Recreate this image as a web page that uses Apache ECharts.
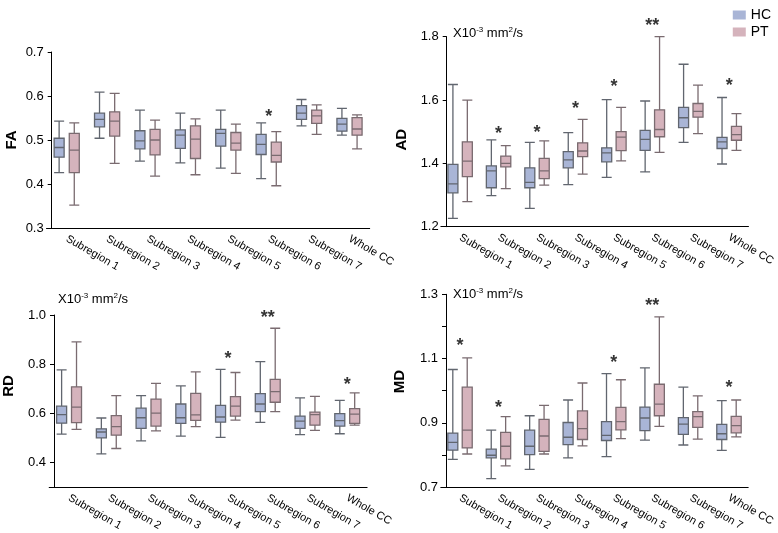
<!DOCTYPE html>
<html><head><meta charset="utf-8">
<script src="https://cdn.jsdelivr.net/npm/echarts@6/dist/echarts.min.js"></script>
<style>html,body{margin:0;padding:0;background:#fff}#c{width:778px;height:533px}</style>
</head><body><div id="c"></div>
<script>
const categories = ['Subregion 1','Subregion 2','Subregion 3','Subregion 4','Subregion 5','Subregion 6','Subregion 7','Whole CC'];
// each entry: [min, Q1, median, Q3, max]
const faHC = [[0.426,0.461,0.483,0.504,0.543],[0.504,0.530,0.547,0.561,0.609],[0.452,0.480,0.498,0.521,0.568],[0.448,0.481,0.511,0.523,0.561],[0.436,0.486,0.515,0.524,0.568],[0.412,0.467,0.490,0.513,0.539],[0.532,0.547,0.561,0.578,0.592],[0.511,0.520,0.536,0.549,0.572]];
const faPT = [[0.352,0.426,0.477,0.515,0.539],[0.447,0.509,0.543,0.564,0.606],[0.418,0.466,0.500,0.524,0.545],[0.421,0.458,0.502,0.532,0.548],[0.424,0.477,0.493,0.517,0.536],[0.396,0.450,0.465,0.495,0.519],[0.513,0.538,0.555,0.568,0.580],[0.480,0.511,0.525,0.551,0.557]];
const adHC = [[1.226,1.307,1.335,1.397,1.649],[1.298,1.323,1.376,1.392,1.474],[1.258,1.323,1.340,1.386,1.466],[1.333,1.386,1.411,1.437,1.497],[1.356,1.405,1.433,1.449,1.601],[1.373,1.441,1.476,1.504,1.597],[1.466,1.513,1.544,1.577,1.713],[1.398,1.447,1.468,1.482,1.608]];
const adPT = [[1.279,1.358,1.407,1.468,1.600],[1.320,1.389,1.400,1.423,1.456],[1.331,1.352,1.376,1.416,1.471],[1.366,1.421,1.439,1.465,1.539],[1.408,1.440,1.483,1.500,1.577],[1.435,1.484,1.507,1.569,1.800],[1.494,1.546,1.564,1.589,1.647],[1.441,1.473,1.491,1.517,1.557]];
const rdHC = [[0.515,0.560,0.595,0.629,0.777],[0.435,0.500,0.524,0.537,0.581],[0.488,0.539,0.582,0.621,0.672],[0.507,0.559,0.582,0.638,0.712],[0.502,0.564,0.585,0.632,0.779],[0.563,0.607,0.638,0.680,0.810],[0.513,0.539,0.568,0.589,0.663],[0.517,0.548,0.570,0.599,0.653]];
const rdPT = [[0.535,0.562,0.625,0.708,0.891],[0.457,0.511,0.546,0.591,0.672],[0.529,0.548,0.601,0.658,0.722],[0.546,0.571,0.594,0.681,0.769],[0.572,0.589,0.629,0.668,0.766],[0.607,0.645,0.688,0.738,0.946],[0.531,0.552,0.595,0.605,0.669],[0.552,0.559,0.597,0.619,0.683]];
const mdHC = [[0.786,0.815,0.839,0.868,1.066],[0.726,0.791,0.799,0.818,0.877],[0.755,0.801,0.827,0.877,0.922],[0.791,0.832,0.855,0.901,0.971],[0.795,0.845,0.861,0.904,1.053],[0.846,0.876,0.915,0.949,1.071],[0.831,0.864,0.896,0.916,1.011],[0.814,0.848,0.866,0.895,0.969]];
const mdPT = [[0.803,0.822,0.877,1.011,1.102],[0.766,0.788,0.827,0.870,0.919],[0.803,0.811,0.859,0.911,0.954],[0.828,0.848,0.882,0.937,1.024],[0.851,0.878,0.904,0.948,1.034],[0.889,0.922,0.958,1.020,1.230],[0.849,0.886,0.919,0.935,0.984],[0.856,0.869,0.891,0.920,0.971]];
// significance marks: [category index, y value, text]
const faStars = [[5,0.562,'*']];
const adStars = [[1,1.505,'*'],[2,1.507,'*'],[3,1.584,'*'],[4,1.655,'*'],[5,1.847,'**'],[7,1.656,'*']];
const rdStars = [[4,0.837,'*'],[5,1.005,'**'],[7,0.732,'*']];
const mdStars = [[0,1.152,'*'],[1,0.960,'*'],[4,1.100,'*'],[5,1.277,'**'],[7,1.020,'*']];
// y tick values and label values
const faTicks = [0.3,0.4,0.5,0.6,0.7];
const adTicks = [1.2,1.4,1.6,1.8];
const rdTicks = [0.4,0.6,0.8,1.0];
const mdTicks = [0.7,0.8,0.9,1.0,1.1,1.2,1.3];
const mdLabels = [0.7,0.9,1.1,1.3];

const FONT = 'Liberation Sans, Arial, sans-serif';
const SLOTS = 8, HC_SLOT = 2, PT_SLOT = 5;
const HC_FILL = '#a9b5d6', PT_FILL = '#d5b3bc';
const HC_LINE = '#61666f', PT_LINE = '#7a6b70';

const slotCats = [];
categories.forEach(c => { for (let j = 0; j < SLOTS; j++) slotCats.push(c + '#' + j); });

const panels = [
  {name:'FA', hc:faHC, pt:faPT, stars:faStars, min:0.3, max:0.7, step:0.1, ticks:faTicks, labels:faTicks,
   grid:{left:46.5, top:52, width:323.2, height:176}, yOffset:-5.2, nameGap:32, namePad:[0,0,0,0]},
  {name:'AD', hc:adHC, pt:adPT, stars:adStars, min:1.2, max:1.8, step:0.2, ticks:adTicks, labels:adTicks,
   grid:{left:440.9, top:36.7, width:314.1, height:190}, yOffset:-5.8, nameGap:37, namePad:[0,16,0,0]},
  {name:'RD', hc:rdHC, pt:rdPT, stars:rdStars, min:0.3, max:1.0, step:0.1, ticks:rdTicks, labels:rdTicks,
   grid:{left:47.5, top:315, width:319.6, height:174.3}, yOffset:-4.8, nameGap:38, namePad:[0,0,0,30]},
  {name:'MD', hc:mdHC, pt:mdPT, stars:mdStars, min:0.7, max:1.3, step:0.1, ticks:mdTicks, labels:mdLabels,
   grid:{left:440.8, top:294.3, width:307.4, height:194}, yOffset:-5.2, nameGap:38.5, namePad:[0,0,0,18]}
];

const grid = [], xAxis = [], yAxis = [], series = [];
panels.forEach((p, i) => {
  grid.push(Object.assign({}, p.grid));
  xAxis.push({type:'category', gridIndex:i, data:slotCats, boundaryGap:true, position:'bottom',
    axisLine:{onZero:false, lineStyle:{color:'#000', width:1}},
    axisTick:{alignWithLabel:true, interval:(idx) => idx % SLOTS === HC_SLOT || idx % SLOTS === PT_SLOT, length:4, lineStyle:{color:'#000'}},
    axisLabel:{show:false}, splitLine:{show:false}});
  xAxis.push({type:'category', gridIndex:i, data:slotCats, boundaryGap:true, position:'bottom', show:false});
  xAxis.push({type:'value', gridIndex:i, min:0, max:categories.length, position:'bottom',
    axisLine:{show:false, onZero:false}, axisTick:{show:false}, splitLine:{show:false},
    axisLabel:{customValues:categories.map((c, k) => k + 0.5), formatter:(v) => categories[Math.floor(v)],
      rotate:-30, margin:10, fontSize:11, color:'#000', fontFamily:FONT}});
  yAxis.push({type:'value', gridIndex:i, min:p.min, max:p.max, interval:p.step, offset:p.yOffset,
    name:p.name, nameLocation:'middle', nameGap:p.nameGap,
    nameTextStyle:{fontSize:15, fontWeight:'bold', color:'#000', fontFamily:FONT, padding:p.namePad},
    axisLine:{show:true, onZero:false, lineStyle:{color:'#000', width:1}},
    axisTick:{show:true, length:4, customValues:p.ticks, lineStyle:{color:'#000'}},
    axisLabel:{customValues:p.labels, formatter:(v) => v.toFixed(1), fontSize:13, color:'#000', margin:8, fontFamily:FONT},
    splitLine:{show:false}});
  const mk = (name, vals, slot, fill, line, xi) => ({
    type:'boxplot', name:name, xAxisIndex:xi, yAxisIndex:i, silent:true,
    encode:{x:0, y:[1,2,3,4,5]},
    data:vals.map((v, k) => [k * SLOTS + slot].concat(v)),
    boxWidth:[10, 10],
    itemStyle:{color:fill, borderColor:line, borderWidth:1.3},
    emphasis:{disabled:true}
  });
  series.push(mk('HC', p.hc, HC_SLOT, HC_FILL, HC_LINE, i * 3));
  series.push(mk('PT', p.pt, PT_SLOT, PT_FILL, PT_LINE, i * 3 + 1));
  series.push({type:'scatter', xAxisIndex:i * 3 + 2, yAxisIndex:i, silent:true, clip:false,
    symbolSize:1, itemStyle:{color:'rgba(0,0,0,0)'},
    data:p.stars.map(s => ({name:s[2], value:[s[0] + 0.5, s[1]]})),
    label:{show:true, position:'inside', formatter:'{b}', fontSize:18, fontWeight:'bold', color:'#000', offset:[0, 4], fontFamily:FONT}});
});

const unitText = 'X10{s|-3} mm{s|2}/s';
const unitStyle = {fontSize:13, fontWeight:'normal', color:'#000', fontFamily:FONT,
  rich:{s:{fontSize:8, verticalAlign:'top', color:'#000', fontFamily:FONT, lineHeight:14}}};
const title = [
  {text:unitText, left:453, top:26, textStyle:unitStyle, padding:0},
  {text:unitText, left:58, top:292, textStyle:unitStyle, padding:0},
  {text:unitText, left:453, top:287, textStyle:unitStyle, padding:0}
];

const chart = echarts.init(document.getElementById('c'), null, {renderer:'canvas'});
chart.setOption({
  animation:false,
  textStyle:{fontFamily:FONT},
  title:title,
  legend:{data:[{name:'HC', itemStyle:{color:HC_FILL, borderWidth:0}}, {name:'PT', itemStyle:{color:PT_FILL, borderWidth:0}}],
    orient:'vertical', right:2, top:3, icon:'rect', itemWidth:13, itemHeight:9, itemGap:3,
    textStyle:{fontSize:14, color:'#000', lineHeight:11, fontFamily:FONT}},
  grid:grid, xAxis:xAxis, yAxis:yAxis, series:series
});
</script></body></html>
